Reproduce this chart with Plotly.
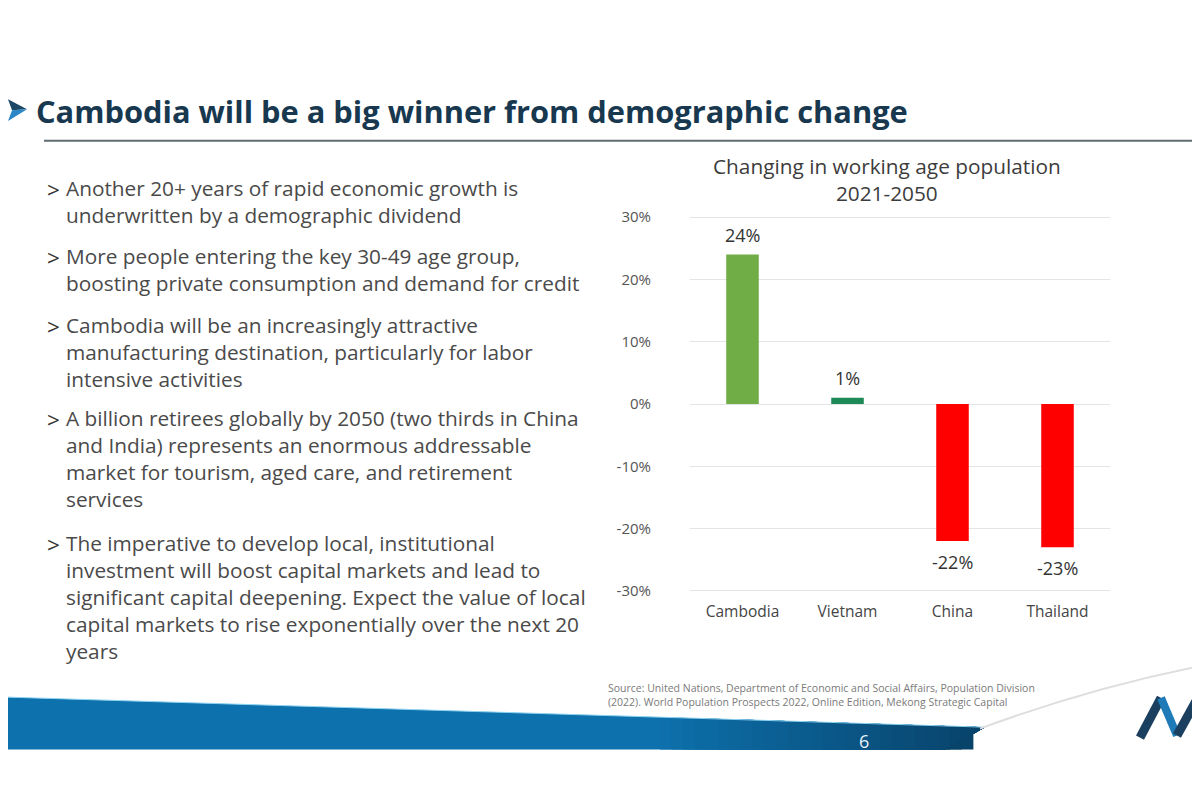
import plotly.graph_objects as go

# page is rendered with an 8px body margin, so the figure is shrunk by 8px
OFF = 8
W, H = 1200 - OFF, 800 - OFF

# ---------------- data ----------------
categories = ["Cambodia", "Vietnam", "China", "Thailand"]
change_pct = [24, 1, -22, -23]
bar_colors = ["#70AD47", "#1E8A57", "#FF0000", "#FF0000"]
tick_values = [-30, -20, -10, 0, 10, 20, 30]
tick_labels = ["-30%", "-20%", "-10%", "0%", "10%", "20%", "30%"]

slide_title = "Cambodia will be a big winner from demographic change"
chart_title = "Changing in working age population<br>2021-2050"
bullets = [
    ["Another 20+ years of rapid economic growth is",
     "underwritten by a demographic dividend"],
    ["More people entering the key 30-49 age group,",
     "boosting private consumption and demand for credit"],
    ["Cambodia will be an increasingly attractive",
     "manufacturing destination, particularly for labor",
     "intensive activities"],
    ["A billion retirees globally by 2050 (two thirds in China",
     "and India) represents an enormous addressable",
     "market for tourism, aged care, and retirement",
     "services"],
    ["The imperative to develop local, institutional",
     "investment will boost capital markets and lead to",
     "significant capital deepening. Expect the value of local",
     "capital markets to rise exponentially over the next 20",
     "years"],
]
source_lines = [
    "Source: United Nations, Department of Economic and Social Affairs, Population Division",
    "(2022). World Population Prospects 2022, Online Edition, Mekong Strategic Capital",
]
page_number = "6"


def px(x):
    return (x - OFF) / W


def py(y):
    return 1 - (y - OFF) / H


FONT = "Open Sans"

fig = go.Figure()
fig.add_trace(go.Bar(
    x=categories, y=change_pct,
    marker=dict(color=bar_colors, line=dict(width=0)),
    width=0.31, hoverinfo="x+y", showlegend=False,
))

# data labels from the data
for c, v in zip(categories, change_pct):
    fig.add_annotation(
        x=c, y=v, xref="x", yref="y", text=f"{v}%", showarrow=False,
        yanchor="bottom" if v >= 0 else "top",
        yshift=6 if v >= 0 else -7,
        font=dict(family=FONT, size=18, color="#333333"),
    )

annotations = []
shapes = []

# slide title
annotations.append(dict(
    x=px(34), y=py(108), xref="paper", yref="paper", xanchor="left", yanchor="middle",
    text=f"<b>{slide_title}</b>", showarrow=False,
    font=dict(family=FONT, size=30.8, color="#17384f"),
))
# chart title
annotations.append(dict(
    x=px(887), y=py(177), xref="paper", yref="paper", xanchor="center", yanchor="middle",
    text=chart_title, showarrow=False,
    font=dict(family=FONT, size=20.8, color="#3c3c3c"),
))

# bullets: one text block per bullet
BFS = 20.8
line_h = 27
first_line_y = [187, 256, 325, 419, 545]
for b, y0 in zip(bullets, first_line_y):
    annotations.append(dict(
        x=px(45), y=py(y0), xref="paper", yref="paper", xanchor="left",
        yanchor="middle", text="&gt;", showarrow=False,
        font=dict(family=FONT, size=22.5, color="#333333"),
    ))
    annotations.append(dict(
        x=px(64), y=py(y0 - line_h / 2 - 4), xref="paper", yref="paper", xanchor="left",
        yanchor="top", align="left", text="<br>".join(b), showarrow=False,
        font=dict(family=FONT, size=BFS, color="#4a4a4a"),
    ))

# source
annotations.append(dict(
    x=px(606), y=py(697), xref="paper", yref="paper", xanchor="left",
    yanchor="middle", align="left", text="<br>".join(source_lines), showarrow=False,
    font=dict(family=FONT, size=10.5, color="#7a7a7a"),
))

# page number
annotations.append(dict(
    x=px(864), y=py(743), xref="paper", yref="paper", xanchor="center", yanchor="middle",
    text=page_number, showarrow=False, font=dict(family=FONT, size=18, color="#e8f1f8"),
))


def path(points):
    return "M " + " L ".join(f"{px(x)},{py(y)}" for x, y in points) + " Z"


# title underline
shapes.append(dict(type="line", xref="paper", yref="paper",
                   x0=px(44), x1=px(1200), y0=py(138), y1=py(138),
                   line=dict(color="#5f6b70", width=2)))

# top-left arrow logo
shapes.append(dict(type="path", xref="paper", yref="paper",
                   path=path([(OFF, 96), (27, 106), (OFF + 4, 107)]),
                   fillcolor="#1c4866", line=dict(width=0)))
shapes.append(dict(type="path", xref="paper", yref="paper",
                   path=path([(OFF, 118), (27, 106), (OFF + 4, 107)]),
                   fillcolor="#2a86c4", line=dict(width=0)))


# bottom blue band with simulated gradient
def top_edge(x):
    return 699 + 0.031 * x


def mix(c1, c2, t):
    a = [int(c1[i:i + 2], 16) for i in (1, 3, 5)]
    b = [int(c2[i:i + 2], 16) for i in (1, 3, 5)]
    return "#" + "".join(f"{round(a[k] + (b[k] - a[k]) * t):02x}" for k in range(3))


shapes.append(dict(type="path", xref="paper", yref="paper",
                   path=path([(OFF, top_edge(OFF)), (985, top_edge(985)), (945, 752), (OFF, 752)]),
                   fillcolor="#0d71ad", line=dict(width=0)))
n_bands = 28
x_start, x_end = 660, 985
for i in range(n_bands):
    x0 = x_start + i * (x_end - x_start) / n_bands
    col = mix("#0d71ad", "#08436a", (i + 1) / n_bands)
    pts = [(x0, top_edge(x0)), (985, top_edge(985)), (945, 752), (x0, 752)]
    shapes.append(dict(type="path", xref="paper", yref="paper", path=path(pts),
                       fillcolor=col, line=dict(width=0)))
# thin light edge on top of band
shapes.append(dict(type="line", xref="paper", yref="paper",
                   x0=px(OFF), x1=px(985), y0=py(top_edge(OFF)), y1=py(top_edge(985)),
                   line=dict(color="#8fd3f0", width=1)))
# page curl shadow
shapes.append(dict(type="path", xref="paper", yref="paper",
                   path=f"M {px(980)},{py(731)} Q {px(1090)},{py(690)} {px(1200)},{py(668)}",
                   line=dict(color="#dedede", width=2)))

# bottom-right logo strokes
shapes.append(dict(type="line", xref="paper", yref="paper",
                   x0=px(1140), y0=py(740), x1=px(1161), y1=py(700),
                   line=dict(color="#1b3f5e", width=9)))
shapes.append(dict(type="line", xref="paper", yref="paper",
                   x0=px(1161), y0=py(700), x1=px(1177), y1=py(738),
                   line=dict(color="#1f7ab8", width=8)))
shapes.append(dict(type="line", xref="paper", yref="paper",
                   x0=px(1177), y0=py(738), x1=px(1200), y1=py(696),
                   line=dict(color="#1b3f5e", width=9)))

fig.update_layout(
    width=W, height=H, autosize=False,
    margin=dict(l=0, r=0, t=0, b=0),
    paper_bgcolor="white", plot_bgcolor="white",
    font=dict(family=FONT),
    annotations=list(fig.layout.annotations) + annotations,
    shapes=shapes,
    xaxis=dict(
        domain=[px(690), px(1110)], range=[-0.5, 3.5],
        showgrid=False, showline=False, zeroline=False, ticks="",
        tickfont=dict(family=FONT, size=15.5, color="#444444"),
        ticklabelstandoff=3, fixedrange=True,
    ),
    yaxis=dict(
        domain=[py(598.3), py(208.7)], range=[-31, 31],
        tickvals=tick_values, ticktext=tick_labels,
        showgrid=True, gridcolor="#e4e4e4", gridwidth=1,
        zeroline=True, zerolinecolor="#e4e4e4", zerolinewidth=1,
        showline=False, ticks="",
        tickfont=dict(family=FONT, size=15, color="#555555"),
        ticklabelstandoff=38, fixedrange=True,
    ),
)

fig.write_html("out.html")
